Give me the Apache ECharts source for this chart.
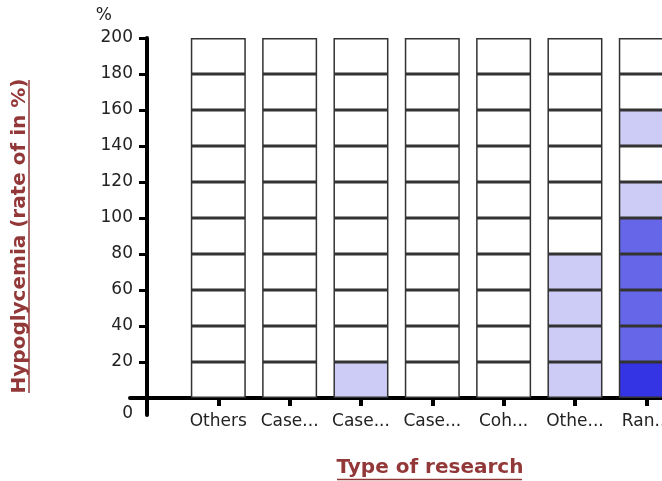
<!DOCTYPE html>
<html>
<head>
<meta charset="utf-8">
<script src="https://cdn.jsdelivr.net/npm/echarts@6/dist/echarts.min.js"></script>
<style>
  html, body { margin: 0; padding: 0; background: #fff; }
  #chart { width: 662px; height: 481px; }
</style>
</head>
<body>
<div id="chart"></div>
<script>
// 研究类型 (x 轴标签，原图已截断)
const categories = ['Others', 'Case...', 'Case...', 'Case...', 'Coh...', 'Othe...', 'Ran...'];
// y 轴刻度 (每格 20%)
const yTicks = [0, 20, 40, 60, 80, 100, 120, 140, 160, 180, 200];
const binSize = 20;
// 每个类型从下到上 10 个格子的颜色等级 (0 = 无)
const levelsOthers = [0, 0, 0, 0, 0, 0, 0, 0, 0, 0];
const levelsCase1 = [0, 0, 0, 0, 0, 0, 0, 0, 0, 0];
const levelsCase2 = [1, 0, 0, 0, 0, 0, 0, 0, 0, 0];
const levelsCase3 = [0, 0, 0, 0, 0, 0, 0, 0, 0, 0];
const levelsCohort = [0, 0, 0, 0, 0, 0, 0, 0, 0, 0];
const levelsOther = [1, 1, 1, 1, 0, 0, 0, 0, 0, 0];
const levelsRandom = [3, 2, 2, 2, 2, 1, 0, 1, 0, 0];
const levelColors = ['#ffffff', '#ccccf6', '#6666e9', '#3434e4'];

const allLevels = [levelsOthers, levelsCase1, levelsCase2, levelsCase3, levelsCohort, levelsOther, levelsRandom];
const titleColor = '#923838';
const font = 'DejaVu Sans';
const xPos = categories.map((c, i) => i + 1);

// 每一层 (20% 一格) 一个堆叠系列
// 数据写成 [高度, 位置]，用 encode 让 y 维度排在前面，这样两个数值轴时也按 y 堆叠
let series = [];
for (let b = 0; b < yTicks.length - 1; b++) {
    series.push({
        name: yTicks[b] + '-' + yTicks[b + 1],
        type: 'bar',
        stack: 'cells',
        barWidth: 55,
        clip: false,
        encode: { x: 1, y: 0 },
        itemStyle: { borderColor: '#333', borderWidth: 1.5 },
        data: categories.map((c, i) => ({
            value: [binSize, xPos[i]],
            itemStyle: { color: levelColors[allLevels[i][b]] }
        }))
    });
}

var myChart = echarts.init(document.getElementById('chart'));

// 两条轴互相穿过一点：网格比轴线多出 17px，再用负 offset 把轴线挪回来
var option = {
    animation: false,
    grid: { left: 130, width: 570, top: 38, bottom: 66, outerBoundsMode: 'none', containLabel: false },
    xAxis: {
        type: 'value',
        min: -0.238,
        max: 7.753,
        offset: -17,
        splitLine: { show: false },
        axisLine: { onZero: false, lineStyle: { color: '#000', width: 4 } },
        axisTick: { customValues: xPos, length: 8, inside: false, lineStyle: { color: '#000', width: 4 } },
        axisLabel: {
            customValues: xPos,
            formatter: v => categories[Math.round(v) - 1],
            margin: 15,
            color: '#222',
            fontFamily: font,
            fontSize: 17
        }
    },
    yAxis: {
        type: 'value',
        min: -9.5,
        max: 200,
        offset: -17,
        name: '%',
        nameLocation: 'end',
        nameGap: 14,
        nameTextStyle: { align: 'right', padding: [0, 35, 0, 0], color: '#222', fontFamily: font, fontSize: 17 },
        splitLine: { show: false },
        axisLine: { onZero: false, lineStyle: { color: '#000', width: 4 } },
        axisTick: { customValues: yTicks, length: 8, lineStyle: { color: '#000', width: 3 } },
        axisLabel: {
            customValues: yTicks,
            margin: 14,
            color: '#222',
            fontFamily: font,
            fontSize: 17,
            formatter: v => v === 0 ? '{z|0}' : String(v),
            rich: { z: { padding: [32, 0, 0, 0], color: '#222', fontFamily: font, fontSize: 17 } }
        }
    },
    graphic: [
        {
            type: 'text',
            x: 20, y: 236,
            rotation: Math.PI / 2,
            style: {
                text: 'Hypoglycemia (rate of in %)',
                fill: titleColor,
                font: 'bold 20px "DejaVu Sans"',
                align: 'center',
                verticalAlign: 'middle'
            }
        },
        {
            type: 'line',
            shape: { x1: 29, y1: 80, x2: 29, y2: 393 },
            style: { stroke: titleColor, lineWidth: 1.5 }
        },
        {
            type: 'text',
            x: 430, y: 468,
            style: {
                text: 'Type of research',
                fill: titleColor,
                font: 'bold 20px "DejaVu Sans"',
                align: 'center',
                verticalAlign: 'middle'
            }
        },
        {
            type: 'line',
            shape: { x1: 337, y1: 479.5, x2: 522, y2: 479.5 },
            style: { stroke: titleColor, lineWidth: 1.5 }
        }
    ],
    series: series
};

myChart.setOption(option);
</script>
</body>
</html>
